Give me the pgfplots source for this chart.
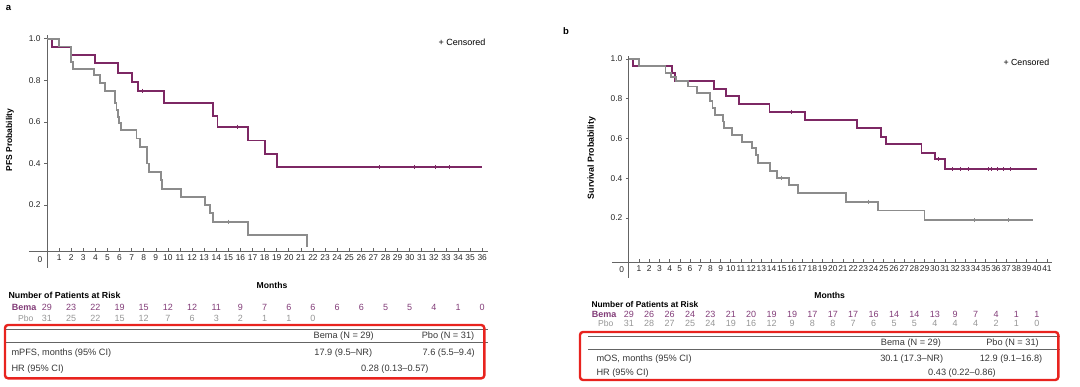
\documentclass[border=0pt]{standalone}
\usepackage{pgfplots}
\pgfplotsset{compat=1.18}
\usepackage{fontspec}
\setmainfont{Liberation Sans}
\definecolor{bema}{RGB}{125,40,100}
\definecolor{bematext}{RGB}{130,60,120}
\definecolor{pbo}{RGB}{140,140,140}
\definecolor{pbotext}{RGB}{150,150,150}
\definecolor{axisgray}{RGB}{100,100,100}
\definecolor{boxred}{RGB}{232,35,30}
\definecolor{tabtext}{RGB}{55,55,55}

\pgfplotsset{
 kmaxis/.style={
  scale only axis, clip=false,
  axis x line*=bottom, axis y line*=middle,
  axis line style={axisgray, line width=0.7pt},
  tick style={axisgray, line width=0.6pt},
  major tick length=3pt,
  xtick align=inside, ytick align=outside,
  ytick={0.2,0.4,0.6,0.8,1.0},
  yticklabels={0.2,0.4,0.6,0.8,1.0},
  tick label style={font=\fontsize{8.4}{9}\selectfont, text=black!85},
  /pgf/number format/assume math mode=true,
  anchor=origin,
 },
 bemaline/.style={const plot, color=bema, line width=1.8pt, no marks},
 pboline/.style={const plot, color=pbo, line width=1.8pt, no marks},
 bemacens/.style={only marks, mark=|, mark size=2pt, color=bema, mark options={line width=0.5pt}},
 pbocens/.style={only marks, mark=|, mark size=2pt, color=pbo, mark options={line width=0.5pt}},
}

\begin{document}
\begin{tikzpicture}[x=1pt,y=1pt]
\path[use as bounding box] (0,0) rectangle (1080,386);

% ================= Panel a =================
\node[font=\fontsize{9.5}{11}\selectfont\bfseries] at (8.5,378) {a};
\begin{axis}[kmaxis, at={(47pt,139.4pt)}, width=459.4pt, height=216.4pt,
  xmin=-1.5, xmax=36.5, ymin=-0.021, ymax=1.02, xtick={1,...,36}]
\addplot[bemaline] coordinates {(0,1.0) (0.4,0.96) (2.0,0.922) (4.0,0.882) (5.9,0.837) (7.05,0.793) (7.5,0.75) (9.7,0.692) (13.7,0.63) (14.1,0.577) (16.65,0.51) (18.0,0.447) (19.0,0.383) (36.0,0.383)};
\addplot[pboline] coordinates {(0,1.0) (1.0,0.963) (2.0,0.889) (2.15,0.854) (3.9,0.826) (4.4,0.786) (4.8,0.748) (5.6,0.69) (5.75,0.657) (5.85,0.625) (5.95,0.593) (6.1,0.561) (7.4,0.52) (7.7,0.48) (8.3,0.40) (8.45,0.36) (9.4,0.32) (9.5,0.277) (11.1,0.237) (13.1,0.2) (13.5,0.16) (13.7,0.12) (16.6,0.056) (21.5,0.056) (21.5,0.0)};
\addplot[bemacens] coordinates {(7.9,0.75) (15.7,0.577) (27.5,0.383) (30.4,0.383) (32.1,0.383) (33.3,0.383)};
\addplot[pbocens] coordinates {(15.0,0.12)};
\draw[axisgray, line width=0.7pt] (axis cs:0,-0.021) -- (axis cs:0,-0.103);
\end{axis}
\node[font=\fontsize{8.4}{9}\selectfont, text=black!85] at (40,126) {0};
\node[font=\fontsize{9}{10}\selectfont, anchor=west] at (435,343.3) {+ Censored};
\node[font=\fontsize{8.5}{10}\selectfont\bfseries, rotate=90] at (10,246) {PFS Probability};
\node[font=\fontsize{8.6}{10}\selectfont\bfseries] at (272,100.3) {Months};
\node[font=\fontsize{8.8}{10}\selectfont\bfseries, anchor=west] at (5,90.3) {Number of Patients at Risk};
\node[font=\fontsize{9}{10}\selectfont\bfseries, text=bematext, anchor=east] at (40,79) {Bema};
\node[font=\fontsize{8.6}{10}\selectfont, text=pbotext, anchor=east] at (37,68) {Pbo};
\foreach \v [count=\k from 0] in {29,23,22,19,15,12,12,11,9,7,6,6,6,6,5,5,4,1,0}
  \node[font=\fontsize{9}{10}\selectfont, text=bematext] at ({47+24.18*\k},79) {\v};
\foreach \v [count=\k from 0] in {31,25,22,15,12,7,6,3,2,1,1,0}
  \node[font=\fontsize{9}{10}\selectfont, text=pbotext] at ({47+24.18*\k},68) {\v};
% table a
\draw[axisgray, line width=0.6pt] (5,56.7) -- (488.3,56.7);
\draw[axisgray, line width=0.6pt] (5,43.3) -- (488.3,43.3);
\begin{scope}[every node/.style={font=\fontsize{9.2}{10}\selectfont, text=tabtext}]
\node at (343.7,50) {Bema (N = 29)};
\node at (448,50) {Pbo (N = 31)};
\node[anchor=west] at (8,33.3) {mPFS, months (95\% CI)};
\node at (343.3,33.3) {17.9 (9.5--NR)};
\node at (448.7,33.3) {7.6 (5.5--9.4)};
\node[anchor=west] at (8,17.3) {HR (95\% CI)};
\node at (394.8,17.3) {0.28 (0.13--0.57)};
\end{scope}
\draw[boxred, line width=2.4pt, rounded corners=3pt] (5,7.7) rectangle (484.3,61);

% ================= Panel b =================
\node[font=\fontsize{9.5}{11}\selectfont\bfseries] at (566,355) {b};
\begin{axis}[kmaxis, at={(628.8pt,128.3pt)}, width=440.1pt, height=206.3pt,
  xmin=-1.65, xmax=41.5, ymin=-0.023, ymax=1.015, xtick={1,...,41}]
\addplot[bemaline] coordinates {(0,1) (0.4,0.965) (4.2,0.93) (4.5,0.89) (8.35,0.849) (9.5,0.815) (10.8,0.773) (13.8,0.735) (17.3,0.693) (22.4,0.651) (24.7,0.609) (25.2,0.571) (28.7,0.528) (30.0,0.495) (31.0,0.445) (40.0,0.445)};
\addplot[pboline] coordinates {(0,1) (1.0,0.965) (3.6,0.928) (4.1,0.91) (4.6,0.89) (5.8,0.861) (6.7,0.827) (8.0,0.79) (8.2,0.752) (8.45,0.718) (9.2,0.685) (9.35,0.651) (10.15,0.617) (11.1,0.584) (12.1,0.55) (12.5,0.517) (12.7,0.475) (13.85,0.438) (14.55,0.403) (15.7,0.366) (16.6,0.324) (21.3,0.282) (24.4,0.237) (29.0,0.188) (39.65,0.188)};
\addplot[bemacens] coordinates {(15.9,0.735) (30.3,0.495) (31.7,0.445) (32.5,0.445) (33.3,0.445) (35.2,0.445) (35.5,0.445) (36.1,0.445) (36.7,0.445) (37.4,0.445)};
\addplot[pbocens] coordinates {(14.9,0.403) (23.5,0.282) (33.9,0.188) (37.2,0.188)};
\draw[axisgray, line width=0.7pt] (axis cs:0,-0.023) -- (axis cs:0,-0.102);
\end{axis}
\node[font=\fontsize{8.4}{9}\selectfont, text=black!85] at (621.7,116.7) {0};
\node[font=\fontsize{8.8}{10}\selectfont, anchor=west] at (1000,323.7) {+ Censored};
\node[font=\fontsize{8.8}{10}\selectfont\bfseries, rotate=90] at (591.7,228) {Survival Probability};
\node[font=\fontsize{8.6}{10}\selectfont\bfseries] at (829.7,91) {Months};
\node[font=\fontsize{8.4}{10}\selectfont\bfseries, anchor=west] at (588,81.7) {Number of Patients at Risk};
\node[font=\fontsize{9}{10}\selectfont\bfseries, text=bematext, anchor=east] at (620,72) {Bema};
\node[font=\fontsize{8.6}{10}\selectfont, text=pbotext, anchor=east] at (617,63) {Pbo};
\foreach \v [count=\k from 0] in {29,26,26,24,23,21,20,19,19,17,17,17,16,14,14,13,9,7,4,1,1}
  \node[font=\fontsize{9}{10}\selectfont, text=bematext] at ({628.8+20.4*\k},72) {\v};
\foreach \v [count=\k from 0] in {31,28,27,25,24,19,16,12,9,8,8,7,6,5,5,4,4,4,2,1,0}
  \node[font=\fontsize{9}{10}\selectfont, text=pbotext] at ({628.8+20.4*\k},63) {\v};
% table b
\draw[axisgray, line width=0.6pt] (588,49.3) -- (1060,49.3);
\draw[axisgray, line width=0.6pt] (588,37) -- (1060,37);
\begin{scope}[every node/.style={font=\fontsize{9.2}{10}\selectfont, text=tabtext}]
\node at (911,43.3) {Bema (N = 29)};
\node at (1012.5,43.3) {Pbo (N = 31)};
\node[anchor=west] at (593,26.7) {mOS, months (95\% CI)};
\node at (911.7,26.7) {30.1 (17.3--NR)};
\node at (1011,26.7) {12.9 (9.1--16.8)};
\node[anchor=west] at (593,12.7) {HR (95\% CI)};
\node at (962,12.7) {0.43 (0.22--0.86)};
\end{scope}
\draw[boxred, line width=2.4pt, rounded corners=3pt] (580,6) rectangle (1058.3,54);
\end{tikzpicture}
\end{document}
